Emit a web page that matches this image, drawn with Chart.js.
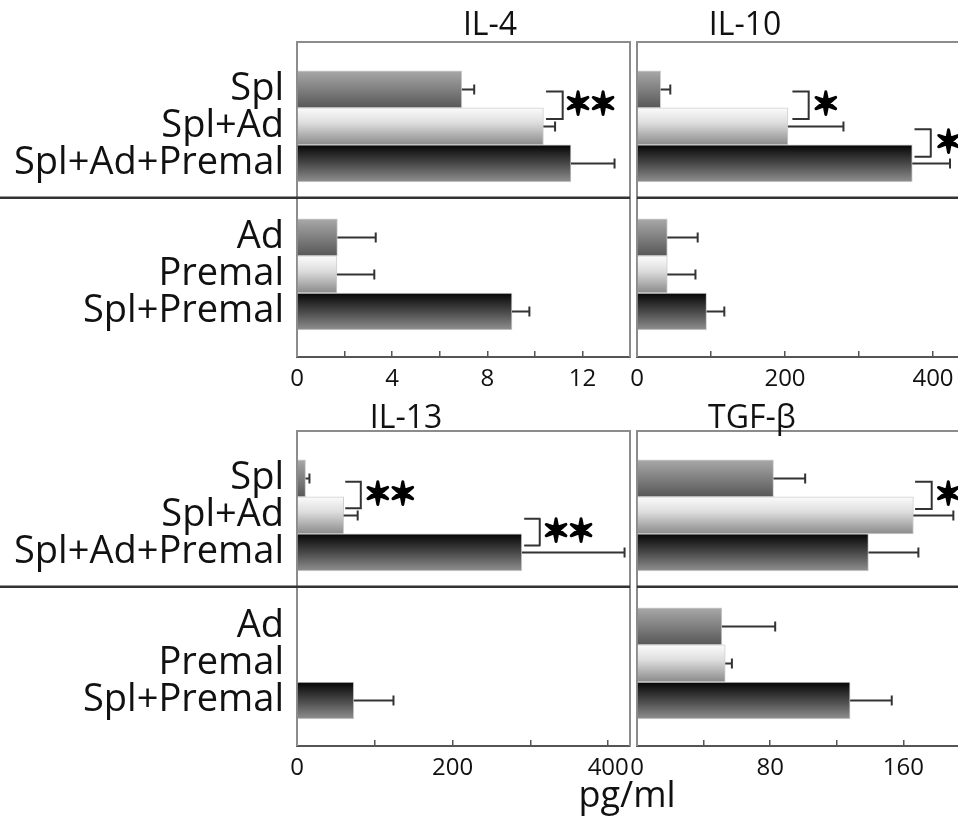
<!DOCTYPE html>
<html>
<head>
<meta charset="utf-8">
<script src="https://cdn.jsdelivr.net/npm/chart.js@4"></script>
<style>
  html, body { margin: 0; padding: 0; background: #fff; overflow: hidden; }
  #wrap { position: relative; width: 958px; height: 823px; overflow: hidden; }
  canvas { position: absolute; }
  .label {
    position: absolute;
    font-family: "Open Sans", sans-serif;
    color: #111;
    line-height: 1;
    white-space: nowrap;
    transform: translateX(-50%);
  }
</style>
</head>
<body>
<div id="wrap">
  <canvas id="il4" width="632" height="395" style="left:0;top:0"></canvas>
  <canvas id="il10" width="357" height="395" style="left:615px;top:0"></canvas>
  <canvas id="il13" width="632" height="395" style="left:0;top:389px"></canvas>
  <canvas id="tgf" width="357" height="395" style="left:615px;top:389px"></canvas>
  <div class="label" style="left:490px;top:7px;font-size:32px">IL-4</div>
  <div class="label" style="left:745px;top:7px;font-size:32px">IL-10</div>
  <div class="label" style="left:406px;top:400px;font-size:32px">IL-13</div>
  <div class="label" style="left:752px;top:400px;font-size:32px">TGF-β</div>
  <div class="label" style="left:627px;top:776px;font-size:36px">pg/ml</div>
</div>
<script>
// groups, top to bottom
const groups = ["Spl", "Spl+Ad", "Spl+Ad+Premal", "Ad", "Premal", "Spl+Premal"];
const rowPos = [1, 2, 3, 5, 6, 7];
const dividerPos = 3.93;

// mean and error (pg/ml)
const il4Mean = [6.93, 10.36, 11.52, 1.7, 1.68, 9.04];
const il4Err = [0.52, 0.49, 1.83, 1.61, 1.57, 0.73];
const il10Mean = [32, 204, 372, 41, 41, 94];
const il10Err = [13, 75, 51, 41, 38, 24];
const il13Mean = [11, 60, 289, null, null, 73];
const il13Err = [5, 18, 132, null, null, 51];
const tgfMean = [82, 166, 139, 51, 53, 128];
const tgfErr = [19, 24, 30, 32, 4, 25];

// axis ticks
const il4Ticks = [0, 4, 8, 12];
const il10Ticks = [0, 200, 400];
const il13Ticks = [0, 200, 400];
const tgfTicks = [0, 80, 160];

// significance brackets: [from row, to row, arm x, bracket x, star x, stars]
const il4Brackets = [[1.06, 1.8, 10.47, 11.17, 12.34, "✶✶"]];
const il10Brackets = [
  [1.06, 1.8, 210, 232, 255, "✶"],
  [2.08, 2.82, 375, 397, 421, "✶"],
];
const il13Brackets = [
  [1.09, 1.81, 62, 82, 120, "✶✶"],
  [2.09, 2.81, 292, 312, 349, "✶✶"],
];
const tgfBrackets = [[1.09, 1.83, 167, 177, 187, "✶"]];

const shades = [
  [[0, "#a8a8a8"], [1, "#575757"]],
  [[0, "#fbfbfb"], [0.4, "#dedede"], [1, "#8a8a8a"]],
  [[0, "#050505"], [0.5, "#484848"], [1, "#8f8f8f"]],
];

const extras = {
  id: "extras",
  beforeDatasetsDraw(chart, args, opts) {
    const { ctx, chartArea: a } = chart;
    ctx.save();
    ctx.strokeStyle = "#8c8c8c";
    ctx.lineWidth = 2;
    ctx.beginPath();
    ctx.moveTo(a.left, a.bottom);
    ctx.lineTo(a.left, a.top);
    ctx.lineTo(a.right, a.top);
    ctx.lineTo(a.right, a.bottom);
    ctx.stroke();
    const yd = chart.scales.y.getPixelForValue(dividerPos);
    ctx.strokeStyle = "#333";
    ctx.lineWidth = 2.5;
    ctx.beginPath();
    ctx.moveTo(opts.wide ? 0 : a.left, yd);
    ctx.lineTo(a.right, yd);
    ctx.stroke();
    ctx.restore();
  },
  afterDatasetsDraw(chart, args, opts) {
    const { ctx } = chart;
    const x = chart.scales.x, y = chart.scales.y;
    ctx.save();
    ctx.strokeStyle = "#333";
    ctx.lineWidth = 2;
    opts.mean.forEach((m, i) => {
      if (m == null) return;
      const py = y.getPixelForValue(rowPos[i]);
      const x0 = x.getPixelForValue(m);
      const x1 = x.getPixelForValue(m + opts.err[i]);
      ctx.beginPath();
      ctx.moveTo(x0, py);
      ctx.lineTo(x1, py);
      ctx.moveTo(x1, py - 5);
      ctx.lineTo(x1, py + 5);
      ctx.stroke();
    });
    opts.brackets.forEach(([r0, r1, xa, xb, xs, stars]) => {
      const y0 = y.getPixelForValue(r0), y1 = y.getPixelForValue(r1);
      const pa = x.getPixelForValue(xa), pb = x.getPixelForValue(xb);
      ctx.strokeStyle = "#333";
      ctx.lineWidth = 2;
      ctx.beginPath();
      ctx.moveTo(pa, y0);
      ctx.lineTo(pb, y0);
      ctx.lineTo(pb, y1);
      ctx.lineTo(pa, y1);
      ctx.stroke();
      ctx.font = "bold 30px 'DejaVu Sans'";
      ctx.textAlign = "center";
      ctx.textBaseline = "middle";
      ctx.fillStyle = "#000";
      ctx.strokeStyle = "#000";
      ctx.lineWidth = 3;
      ctx.lineJoin = "round";
      const sx = x.getPixelForValue(xs), sy = (y0 + y1) / 2 + 1;
      ctx.strokeText(stars, sx, sy);
      ctx.fillText(stars, sx, sy);
    });
    ctx.restore();
  },
};

function panel(id, mean, err, max, step, labels, brackets, left) {
  new Chart(document.getElementById(id), {
    type: "bar",
    data: {
      datasets: [
        {
          data: mean.map((v, i) => ({ x: v, y: rowPos[i] })),
          backgroundColor: (c) => {
            const chart = c.chart;
            if (!chart.chartArea || c.dataIndex === undefined) return "#888";
            const y = chart.scales.y;
            const pos = rowPos[c.dataIndex];
            const g = chart.ctx.createLinearGradient(
              0, y.getPixelForValue(pos - 0.5), 0, y.getPixelForValue(pos + 0.5));
            shades[c.dataIndex % 3].forEach(([o, col]) => g.addColorStop(o, col));
            return g;
          },
          borderColor: "#cfcfcf",
          borderWidth: 1,
          barPercentage: 1,
          categoryPercentage: 1,
        },
      ],
    },
    options: {
      indexAxis: "y",
      responsive: false,
      animation: false,
      layout: { padding: { top: 42, right: 2, left: left ? 0 : 22, bottom: 0 } },
      plugins: {
        legend: { display: false },
        tooltip: { enabled: false },
        extras: { mean, err, brackets, wide: left },
      },
      scales: {
        x: {
          type: "linear",
          min: 0,
          max: max,
          ticks: {
            stepSize: step,
            includeBounds: false,
            autoSkip: false,
            maxRotation: 0,
            padding: 14,
            color: "#111",
            font: { family: "Open Sans", size: 24 },
            callback: (v) => (labels.includes(v) ? String(v) : ""),
          },
          grid: {
            drawOnChartArea: false,
            drawTicks: true,
            tickLength: -6,
            color: "#555",
            lineWidth: 1.5,
          },
          border: { color: "#555", width: 2 },
          afterFit: (s) => {
            s.height = 38;
            s.paddingLeft = 0;
            s.paddingRight = 0;
          },
        },
        y: {
          type: "linear",
          reverse: true,
          offset: false,
          min: -0.28,
          max: 8.23,
          display: left,
          afterBuildTicks: (s) => {
            s.ticks = rowPos.map((v) => ({ value: v }));
          },
          afterFit: (s) => {
            s.width = left ? 297 : 0;
          },
          ticks: {
            autoSkip: false,
            padding: 5,
            color: "#111",
            font: { family: "Open Sans", size: 38, lineHeight: 1 },
            callback: (v) => groups[rowPos.indexOf(v)],
          },
          grid: { display: false },
          border: { display: false },
        },
      },
    },
    plugins: [extras],
  });
}

panel("il4", il4Mean, il4Err, 14, 2, il4Ticks, il4Brackets, true);
panel("il10", il10Mean, il10Err, 450, 100, il10Ticks, il10Brackets, false);
panel("il13", il13Mean, il13Err, 428, 100, il13Ticks, il13Brackets, true);
panel("tgf", tgfMean, tgfErr, 200, 40, tgfTicks, tgfBrackets, false);
</script>
</body>
</html>
